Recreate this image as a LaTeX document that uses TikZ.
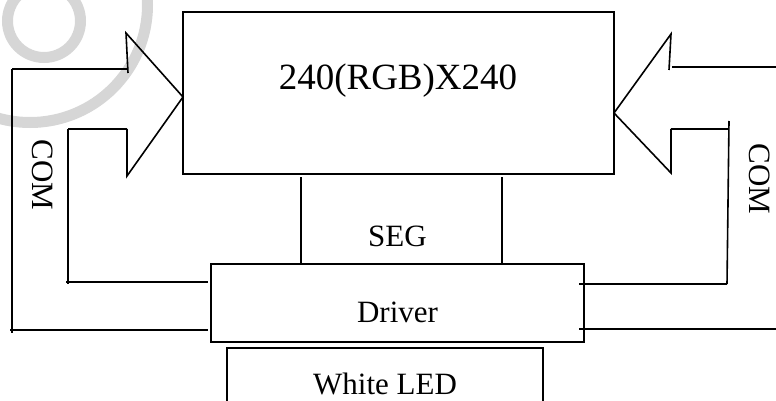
\documentclass[tikz,border=0pt]{standalone}
\usepackage{fontspec}
\setmainfont{Liberation Serif}
\begin{document}
\begin{tikzpicture}[x=1pt,y=-1pt,
  box/.style={draw, line width=2pt, inner sep=0pt, outer sep=0pt},
  wire/.style={line width=1.6pt},
  lbl/.style={font=\fontsize{31}{31}\selectfont, inner sep=0pt, anchor=base},
  wm/.style={draw=black!16, line width=11pt}]
\useasboundingbox (0,0) rectangle (776,401);
\clip (0,0) rectangle (776,401);
% watermark
\draw[wm] (44,21) circle[radius=36.5];
\draw[wm] (30,5) circle[radius=117.5];
% blocks
\node[box, minimum width=431pt, minimum height=162pt, anchor=north west] (panel) at (183,12) {};
\node[box, minimum width=373pt, minimum height=78pt, anchor=north west] (driver) at (211,264) {};
\node[box, minimum width=316pt, minimum height=80pt, anchor=north west] (led) at (227,348) {};
% texts
\node[lbl, font=\fontsize{37}{37}\selectfont] (title) at (398,90) {240(RGB)X240};
\node[lbl] (seg) at (397.5,246) {SEG};
\node[lbl] (drvtxt) at (397.5,322) {Driver};
\node[lbl] (ledtxt) at (385,394) {White LED};
\node[lbl, rotate=-90, anchor=center] (comL) at (42.5,175) {COM};
\node[lbl, rotate=-90, anchor=center] (comR) at (760,179) {COM};
% left block arrow
\draw[wire, line join=miter] (128,73) -- (126,33) -- (panel.west |- 0,97) -- (127,176) -- (127,129);
\draw[wire] (128,69) -- (12,69);
\draw[wire] (12,69) -- (12,333);
\draw[wire] (10,330) -- ([xshift=-3pt]driver.west |- 0,330);
\draw[wire] (127,129) -- (68,129);
\draw[wire] (68,129) -- (68,284);
\draw[wire] (66,282) -- ([xshift=-3pt]driver.west |- 0,282);
% right block arrow
\draw[wire, line join=miter] (669,70) -- (671,34) -- (panel.east |- 0,113) -- (671,173) -- (671,129);
\draw[wire] (672,67) -- (776,67);
\draw[wire] (671,129) -- (729,129);
\draw[wire] (729,121) -- (727,284);
\draw[wire] (727,284) -- ([xshift=-5pt]driver.east |- 0,284);
\draw[wire] (776,329) -- ([xshift=-5pt]driver.east |- 0,329);
% SEG lines
\draw[wire] ([yshift=-3pt]panel.south -| 301,0) -- (driver.north -| 301,0);
\draw[wire] ([yshift=-3pt]panel.south -| 502,0) -- (driver.north -| 502,0);
\end{tikzpicture}
\end{document}
